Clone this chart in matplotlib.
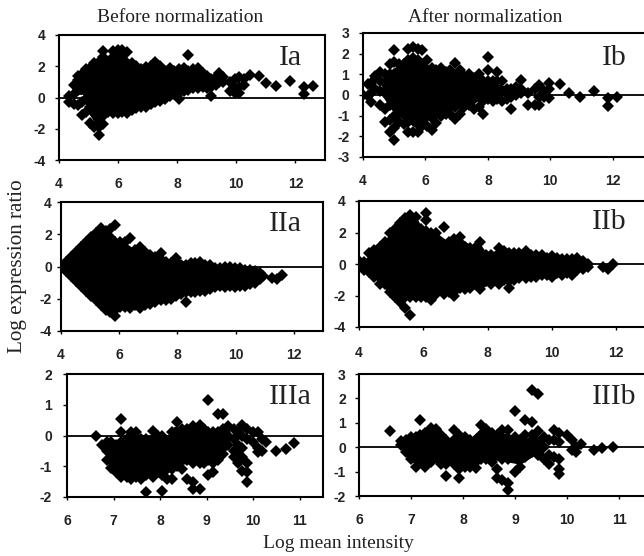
import matplotlib
matplotlib.use('Agg')
import matplotlib.pyplot as plt

# values: one x per column, list of y at that x
ia_x = [4.35, 4.5, 4.65, 4.78, 4.92, 5.06, 5.2, 5.34, 5.5, 5.66, 5.82, 5.98, 6.14, 6.3, 6.46, 6.62, 6.78, 6.94, 7.1, 7.26, 7.42, 7.58, 7.74, 7.9, 8.06, 8.22, 8.38, 8.54, 8.7, 8.86, 9.02, 9.15, 9.3, 9.42, 9.55, 9.8, 9.95, 10.1, 10.25, 10.45, 10.75, 11.0, 11.35, 11.8, 12.3, 12.6]
ia_y = [[-0.3, 0.1], [-0.4, 0.2, 0.8], [-0.5, 0.5, 1.1, 1.4], [-1.15, -0.3, 0.9, 1.5], [-0.9, -0.1, 0.6, 1.2, 1.8], [-1.6, -0.6, 0, 0.6, 1.2, 1.9], [-1.9, -1.0, -0.4, 0.3, 0.9, 1.5, 2.2], [-2.4, -1.9, -1.3, -0.7, 0, 0.6, 1.2, 1.8, 2.3], [-1.7, -1.2, -0.5, 0.3, 0.9, 1.5, 2.1, 3.0, 2.6], [-0.9, -0.2, 0.4, 1.0, 1.6, 2.2], [-1.0, -0.4, 0.2, 0.8, 1.4, 2.0, 2.6, 3.0], [-1.0, -0.4, 0.2, 0.8, 1.4, 2.0, 2.6, 3.05], [-0.9, -0.3, 0.3, 0.9, 1.5, 2.1, 2.7, 3.05], [-1.0, -0.4, 0.2, 0.8, 1.4, 2.0, 2.9], [-0.8, -0.2, 0.4, 1.0, 1.6, 2.2], [-0.7, -0.1, 0.5, 1.1, 1.7, 2.0], [-0.6, 0, 0.6, 1.2, 1.8], [-0.6, -0.1, 0.5, 1.1, 1.7, 1.95], [-0.4, 0.2, 0.8, 1.4, 2.0], [-0.3, 0.3, 0.9, 1.5, 2.3, 1.9], [-0.2, 0.4, 1.0, 1.6, 2.0], [-0.1, 0.5, 1.1, 1.7], [0.1, 0.6, 1.2, 1.9], [0.2, 0.8, 1.4, 1.7], [-0.1, 0.3, 0.9, 1.5, 1.8], [0.4, 1.0, 1.6, 1.9], [0.5, 1.1, 1.7, 2.7], [0.6, 1.2, 1.8], [0.6, 1.0, 1.5, 1.9], [0.7, 1.2, 1.6], [0.6, 1.0, 1.4], [0.1, 0.7, 1.2], [0.8, 1.3], [1.0, 1.6], [1.0, 1.3], [0.4, 1.0], [0.3, 0.6, 1.2], [0.3, 0.7, 1.3], [0.8, 1.2], [1.45], [1.4], [0.9], [0.75], [1.05], [0.25, 0.7], [0.75]]
# solid black part of the cloud: x, lower edge, upper edge
ia_core_x = [4.5, 4.6, 4.8, 5.0, 5.2, 5.4, 5.6, 5.8, 6.0, 6.3, 6.6, 7.0, 7.3, 7.6, 8.0, 8.4, 8.8, 9.2, 9.5]
ia_core_lo = [0.2, 0.2, 0.2, -1.0, -1.6, -1.8, -1.2, -0.9, -1.0, -0.9, -0.7, -0.4, -0.2, 0, 0.3, 0.6, 0.7, 0.8, 1.0]
ia_core_hi = [0.8, 1.2, 1.6, 2.0, 2.3, 2.4, 2.6, 2.7, 3.0, 2.6, 2.0, 1.9, 2.2, 1.9, 1.7, 1.9, 1.7, 1.3, 1.2]

ib_x = [4.0, 4.15, 4.25, 4.4, 4.55, 4.7, 4.85, 5.0, 5.15, 5.3, 5.45, 5.6, 5.75, 5.9, 6.05, 6.2, 6.35, 6.5, 6.65, 6.8, 6.95, 7.1, 7.25, 7.4, 7.55, 7.7, 7.85, 8.0, 8.15, 8.3, 8.45, 8.6, 8.75, 8.9, 9.05, 9.3, 9.5, 9.65, 9.8, 9.95, 10.3, 10.6, 10.95, 11.4, 11.85, 12.15]
ib_y = [[0], [0.55, -0.05], [-0.35, 0.1, 0.6], [0.3, 0.9], [-0.5, 0.2, 0.7, 1.1], [-1.3, -0.7, 0.1, 0.6, 1.0], [-1.8, -1.2, -0.5, 0, 0.5, 1.0, 1.5], [-2.2, -1.6, -1.0, -0.5, 0, 0.5, 1.0, 1.6, 2.2], [-1.3, -0.8, -0.3, 0.2, 0.7, 1.2, 1.5], [-1.4, -0.9, -0.4, 0.1, 0.6, 1.1, 1.5], [-1.8, -1.3, -0.8, -0.3, 0.2, 0.7, 1.2, 1.7, 2.25], [-1.8, -1.2, -0.7, -0.2, 0.3, 0.8, 1.3, 1.8, 2.3], [-1.8, -1.3, -0.8, -0.3, 0.2, 0.7, 1.2, 1.7, 2.25], [-1.5, -1.0, -0.5, 0, 0.5, 1.0, 1.5, 2.2], [-1.5, -0.8, -0.3, 0.2, 0.7, 1.2, 1.7], [-1.7, -1.1, -0.6, -0.1, 0.4, 0.9, 1.3], [-1.35, -0.8, -0.3, 0.2, 0.7, 1.2], [-1.0, -0.5, 0, 0.5, 1.0, 1.3], [-0.9, -0.4, 0.1, 0.6, 1.1], [-0.9, -0.3, 0.2, 0.7, 1.2], [-1.15, -0.6, -0.1, 0.4, 0.9, 1.55], [-0.9, -0.4, 0.1, 0.6, 1.2], [-0.6, -0.1, 0.4, 0.9], [-0.5, 0, 0.5, 1.0], [-0.7, -0.2, 0.3, 0.8], [-0.6, -0.1, 0.4, 1.0], [-0.9, -0.3, 0.2, 0.7], [-0.2, 0.3, 0.7, 1.2, 1.85], [-0.3, 0.2, 0.7], [-0.2, 0.3, 0.7, 1.1], [-0.3, 0.2, 0.7], [-0.2, 0.3], [-0.7, -0.1, 0.3], [0, 0.4], [0.3, 0.75, 0.1], [-0.5, 0.1], [-0.5, 0.3], [-0.5, -0.1, 0.5], [0.2, -0.1], [0.3, -0.15, 0.6], [0.55], [0.1], [-0.1], [0.2], [-0.55, -0.15], [-0.1]]
ib_core_x = [4.6, 4.9, 5.1, 5.4, 5.7, 6.0, 6.3, 6.6, 7.0, 7.4, 7.8, 8.2, 8.6, 9.0]
ib_core_lo = [0, -0.7, -1.0, -1.3, -1.6, -1.3, -1.0, -0.8, -0.7, -0.4, -0.2, -0.1, 0, 0.1]
ib_core_hi = [0.6, 1.2, 1.3, 1.5, 1.9, 1.6, 1.1, 1.1, 1.1, 0.9, 0.7, 0.6, 0.4, 0.2]

iia_x = [4.0, 4.17, 4.34, 4.51, 4.68, 4.85, 5.02, 5.19, 5.36, 5.53, 5.7, 5.87, 6.04, 6.21, 6.38, 6.55, 6.72, 6.89, 7.06, 7.23, 7.45, 7.6, 7.77, 7.94, 8.11, 8.28, 8.45, 8.62, 8.79, 8.96, 9.13, 9.3, 9.47, 9.64, 9.81, 9.98, 10.15, 10.32, 10.49, 10.66, 10.83, 10.95, 11.25, 11.42, 11.6]
iia_y = [[0], [0.3, -0.3], [0.6, 0, -0.6], [0.9, 0.3, -0.3, -0.9], [1.2, 0.6, 0, -0.6, -1.2], [1.5, 0.9, 0.3, -0.3, -0.9, -1.5], [1.8, 1.2, 0.6, 0, -0.6, -1.2, -1.8], [2.1, 1.5, 0.9, 0.3, -0.3, -0.9, -1.5, -2.1], [2.4, 1.8, 1.2, 0.6, 0, -0.6, -1.2, -1.8, -2.4], [2.2, 1.5, 0.9, 0.3, -0.3, -0.9, -1.5, -2.1, -2.7], [2.3, 1.8, 1.2, 0.6, 0, -0.6, -1.2, -1.8, -2.4, -2.8], [2.6, 1.5, 0.9, 0.3, -0.3, -0.9, -1.5, -2.1, -2.7, -3.1], [1.5, 0.9, 0.3, -0.3, -0.9, -1.5, -2.1, -2.5], [1.5, 0.9, 0.3, -0.3, -0.9, -1.5, -2.1, -2.5], [1.75, 0.6, 0, -0.6, -1.2, -1.8, -2.4, -2.6], [1.0, 0.3, -0.3, -0.9, -1.5, -2.1, -2.4], [1.2, 0.6, 0, -0.6, -1.2, -1.8, -2.6], [0.9, 0.3, -0.3, -0.9, -1.5, -2.1, -2.4], [0.7, 0.1, -0.5, -1.1, -1.7, -2.3], [0.6, 0, -0.6, -1.2, -1.8, -2.2], [0.85, 0.3, -0.3, -0.9, -1.5, -2.1], [0.3, -0.3, -0.9, -1.5, -2.1], [0.2, -0.4, -1.0, -1.6, -2.0], [0.5, -0.1, -0.7, -1.3, -1.8], [0.1, -0.5, -1.1, -1.7], [0.1, -0.4, -1.0, -1.6, -2.2], [0.2, -0.4, -1.0, -1.6], [0.2, -0.3, -0.9, -1.6], [0.3, -0.3, -0.9, -1.5], [0.1, -0.5, -1.0, -1.5], [0.1, -0.4, -0.9, -1.4], [-0.1, -0.6, -1.3], [-0.1, -0.6, -1.2], [0, -0.6, -1.3], [0, -0.6, -1.2], [-0.1, -0.7, -1.3], [-0.1, -0.7, -1.2], [-0.2, -0.8, -1.2], [-0.2, -0.7, -1.1], [-0.3, -0.7, -1.0], [-0.4, -0.8], [-0.6], [-0.7], [-0.8], [-0.5]]
iia_core_x = [4.0, 4.3, 4.6, 5.0, 5.3, 5.6, 5.9, 6.2, 6.5, 6.8, 7.1, 7.5, 7.8, 8.0, 8.4, 8.8, 9.2, 9.6, 10.0, 10.4, 10.8, 10.95]
iia_core_lo = [0, -0.6, -1.2, -1.9, -2.4, -2.7, -2.8, -2.5, -2.4, -2.5, -2.3, -2.1, -2.0, -1.8, -1.6, -1.5, -1.4, -1.3, -1.3, -1.2, -0.8, -0.6]
iia_core_hi = [0, 0.5, 1.0, 1.7, 2.3, 2.0, 1.5, 1.5, 1.1, 1.2, 0.7, 0.7, 0.2, 0.5, 0.2, 0.3, 0.1, 0, -0.1, -0.2, -0.4, -0.6]

iib_x = [4.0, 4.16, 4.32, 4.48, 4.64, 4.8, 4.96, 5.12, 5.28, 5.44, 5.6, 5.76, 5.92, 6.08, 6.24, 6.4, 6.65, 6.8, 6.96, 7.15, 7.3, 7.46, 7.62, 7.78, 7.94, 8.1, 8.35, 8.5, 8.66, 8.82, 8.98, 9.2, 9.36, 9.52, 9.68, 9.84, 10.0, 10.16, 10.32, 10.48, 10.64, 10.8, 10.96, 11.12, 11.6, 11.75, 11.9]
iib_y = [[0.2, -0.1], [0.1, -0.4], [0.7, 0.1, -0.5], [0.9, 0.3, -0.3, -0.8], [1.1, 0.6, 0, -0.6, -1.3], [1.4, 0.9, 0.3, -0.3, -0.9, -1.3], [2.0, 1.2, 0.6, 0, -0.6, -1.2, -1.8], [2.2, 1.5, 0.9, 0.3, -0.3, -0.9, -1.5, -2.1], [2.6, 1.8, 1.2, 0.6, 0, -0.6, -1.2, -1.8, -2.4], [2.9, 2.1, 1.5, 0.9, 0.3, -0.3, -0.9, -1.5, -2.1, -2.8], [3.1, 2.4, 1.8, 1.2, 0.6, 0, -0.6, -1.2, -1.8, -2.1, -3.25], [3.0, 2.1, 1.5, 0.9, 0.3, -0.3, -0.9, -1.5, -2.1], [2.2, 1.8, 1.2, 0.6, 0, -0.6, -1.2, -1.8, -2.1], [2.8, 3.25, 2.1, 1.5, 0.9, 0.3, -0.3, -0.9, -1.5, -2.1], [2.0, 1.2, 0.6, 0, -0.6, -1.2, -1.8, -2.3], [2.0, 1.5, 0.9, 0.3, -0.3, -0.9, -1.5, -1.9], [2.35, 1.2, 0.6, 0, -0.6, -1.2, -1.9], [1.4, 0.9, 0.3, -0.3, -0.9, -1.5, -1.8], [1.6, 1.2, 0.6, 0, -0.6, -1.2, -2.0, -1.7], [1.7, 0.9, 0.3, -0.3, -0.9, -1.5], [1.1, 0.6, 0, -0.6, -1.2, -1.6], [1.0, 0.3, -0.3, -0.9, -1.5], [1.0, 0.5, -0.1, -0.7, -1.3], [1.4, 0.3, -0.3, -0.9, -1.6], [0.6, 0.1, -0.5, -1.1], [0.6, 0, -0.6, -1.3], [1.0, 0.3, -0.3, -0.9, -1.3], [0.8, 0.2, -0.4, -1.0], [0.7, 0.1, -0.5, -1.1, -1.55], [0.7, 0.2, -0.4, -1.0], [0.7, 0.1, -0.5, -0.9], [0.8, 0.2, -0.4, -0.9], [0.6, 0.1, -0.5, -0.8], [0.6, 0, -0.5, -0.8], [0.6, 0.1, -0.7], [0.4, -0.2, -0.7], [0.5, 0, -0.8], [0.4, -0.2, -0.6], [0.3, -0.2, -0.7], [0.3, -0.2, -0.6], [0.3, -0.2, -0.7], [0.4, -0.1, -0.4], [0.2, -0.3], [0, -0.2], [-0.2], [-0.3], [0]]
iib_core_x = [4.0, 4.3, 4.6, 5.0, 5.3, 5.6, 5.8, 6.0, 6.4, 6.8, 7.0, 7.2, 7.6, 7.8, 8.0, 8.35, 8.8, 9.2, 9.6, 10.0, 10.4, 10.8, 11.1]
iib_core_lo = [0, -0.4, -1.2, -1.9, -2.3, -2.1, -2.1, -2.1, -1.9, -1.8, -2.0, -1.6, -1.5, -1.6, -1.3, -1.2, -1.1, -0.9, -0.7, -0.8, -0.7, -0.4, -0.2]
iib_core_hi = [0, 0.5, 1.1, 2.0, 2.6, 3.0, 2.9, 2.2, 2.0, 1.4, 1.5, 1.6, 1.0, 1.2, 0.6, 1.0, 0.7, 0.8, 0.6, 0.5, 0.3, 0.4, 0]

iiia_x = [6.63, 6.75, 6.85, 6.95, 7.05, 7.17, 7.28, 7.38, 7.49, 7.6, 7.7, 7.85, 7.95, 8.05, 8.15, 8.25, 8.37, 8.48, 8.58, 8.7, 8.85, 8.95, 9.03, 9.14, 9.25, 9.35, 9.45, 9.58, 9.68, 9.76, 9.86, 10.0, 10.1, 10.18, 10.27, 10.5, 10.7, 10.88]
iiia_y = [[0], [-0.3], [-0.2, -0.5, -0.8], [-0.2, -0.5, -0.8, -1.05], [-0.3, -0.6, -0.9, -1.2], [0.55, 0.1, -0.2, -0.5, -0.8, -1.1, -1.35], [-0.1, -0.4, -0.7, -1.0, -1.35], [0.1, -0.2, -0.5, -0.8, -1.1, -1.4], [0.1, -0.3, -0.6, -0.9, -1.35], [-0.1, -0.4, -0.7, -1.0, -1.4], [-0.1, -0.4, -0.7, -1.0, -1.3, -1.85], [0.15, -0.2, -0.5, -0.8, -1.1, -1.35], [0, -0.3, -0.6, -0.9, -1.2], [0, -0.3, -0.6, -0.9, -1.3, -1.8], [-0.2, -0.5, -0.8, -1.1, -1.4], [-0.2, 0.1, -0.5, -0.8, -1.1, -1.4], [0.45, 0.1, -0.2, -0.5, -0.8, -1.0], [0.2, -0.1, -0.4, -0.7, -1.1], [0.2, -0.2, -0.5, -0.8, -1.4], [0.3, 0, -0.3, -0.6, -0.9, -1.5, -1.75], [0.35, 0, -0.3, -0.6, -0.9, -1.75], [0.2, -0.1, -0.4, -0.7, -0.9], [1.15, 0.1, -0.2, -0.5, -0.8, -1.3], [0.1, -0.2, -0.5, -0.9, -1.2], [0.7, 0.1, -0.2, -0.5, -0.8], [0.7, 0.2, -0.1, -0.4, -0.6], [0.3, 0, -0.3], [0.2, -0.1, -0.5, -0.7], [0.1, -0.3, -0.6, -0.9], [0.35, 0, -0.4, -0.7, -1.15], [0.2, -0.1, -0.9, -1.2, -1.5], [0.1, -0.2], [0.1, -0.4, -0.55], [-0.1, -0.5], [-0.2], [-0.5], [-0.45], [-0.25]]
iiia_core_x = [6.85, 7.1, 7.4, 7.7, 7.85, 8.1, 8.3, 8.6, 8.85, 9.1, 9.4, 9.5]
iiia_core_lo = [-0.7, -1.3, -1.4, -1.3, -1.3, -1.3, -1.0, -0.9, -0.9, -0.9, -0.5, -0.3]
iiia_core_hi = [-0.3, -0.1, 0.05, -0.1, 0.1, -0.1, 0.3, 0.2, 0.3, 0.1, 0.2, 0.2]

iiib_x = [6.6, 6.8, 6.9, 7.0, 7.1, 7.17, 7.27, 7.38, 7.48, 7.58, 7.68, 7.83, 7.93, 8.03, 8.13, 8.25, 8.35, 8.45, 8.55, 8.65, 8.75, 8.87, 9.0, 9.1, 9.2, 9.33, 9.45, 9.55, 9.65, 9.75, 9.85, 10.0, 10.1, 10.17, 10.27, 10.52, 10.68, 10.88]
iiib_y = [[0.65], [0.25, 0.1], [0.3, 0, -0.2], [0.4, 0, -0.3, -0.5], [0.4, 0, -0.4, -0.8], [1.1, 0.5, 0.2, -0.2, -0.6], [0.6, 0.2, -0.2, -0.6, -0.8], [0.8, 0.4, 0, -0.4, -0.6], [0.75, 0.4, 0, -0.4], [0.5, 0.1, -0.3, -0.7], [0.3, -0.1, -0.5, -0.7, -1.2], [0.7, 0.3, -0.1, -0.5, -0.7], [0.5, 0.1, -0.3, -0.7, -0.9, -1.25], [0.4, 0, -0.4, -0.8], [0.3, -0.1, -0.5, -0.8], [0.3, -0.1, -0.4, -0.6, -0.85], [0.9, 0.5, 0.1, -0.3, -0.5], [0.75, 0.3, -0.1, -0.5], [0.6, 0.2, -0.2, -0.6], [0.5, 0.1, -0.3, -0.9, -1.25], [0.7, 0.3, -0.1, -0.5, -1.35], [0.7, 0.3, -0.1, -0.5, -1.45, -1.75], [1.5, 0.4, 0, -0.4, -1.0], [0.3, -0.1, -0.5, -0.8], [1.1, 0.5, 0.1, -0.4], [2.35, 1.05, 0.5, 0.1, -0.2], [2.2, 0.65, 0.2, -0.3], [0.4, 0, -0.5], [0.3, -0.3, -0.7], [0.7, 0.3, -0.4], [0.6, 0.2, -0.5, -0.9, -1.1], [0.5], [0.3, -0.1], [0, -0.2], [0.15], [-0.1], [-0.05], [0]]
iiib_core_x = [6.85, 7.1, 7.4, 7.7, 7.85, 8.1, 8.35, 8.6, 8.85, 9.1, 9.4, 9.55]
iiib_core_lo = [-0.1, -0.8, -0.6, -0.7, -0.7, -0.8, -0.5, -0.5, -0.6, -0.7, -0.3, -0.3]
iiib_core_hi = [0.2, 0.4, 0.7, 0.3, 0.6, 0.3, 0.8, 0.5, 0.6, 0.3, 0.5, 0.3]

panel_labels = ['Ia', 'Ib', 'IIa', 'IIb', 'IIIa', 'IIIb']
y_ticks_top = [-4, -2, 0, 2, 4]
y_ticks_ib = [-3, -2, -1, 0, 1, 2, 3]
y_ticks_iiia = [-2, -1, 0, 1, 2]
y_ticks_iiib = [-2, -1, 0, 1, 2, 3]
x_ticks_top = [4, 6, 8, 10, 12]
x_ticks_bottom = [6, 7, 8, 9, 10, 11]

W, H = 644, 556


def panel(box, xlim, ylim, xticks, yticks, xs, cols, core, label, label_xy, ypad, xpad=9.7, right_spine=True):
    left, top, right, bottom = box
    ax = fig.add_axes([left / W, 1 - bottom / H, (right - left) / W, (bottom - top) / H])
    px = [x for x, ys in zip(xs, cols) for y in ys]
    py = [y for ys in cols for y in ys]
    ax.axhline(0, color='black', lw=1.3, zorder=1)
    ax.fill_between(core[0], core[1], core[2], color='black', lw=0, zorder=2)
    ax.plot(px, py, 'D', ms=5.8, color='black', mew=0, zorder=2)
    ax.set_xlim(xlim)
    ax.set_ylim(ylim)
    ax.set_xticks(xticks)
    ax.set_yticks(yticks)
    ax.tick_params(axis='x', length=2.5, width=1.0, pad=xpad, labelsize=10)
    ax.tick_params(axis='y', length=2.9, width=1.0, pad=ypad, labelsize=10)
    for lab in ax.get_xticklabels() + ax.get_yticklabels():
        lab.set_fontweight('bold')
        lab.set_color('#222222')
    for s in ax.spines.values():
        s.set_linewidth(1.5)
    ax.spines['right'].set_visible(right_spine)
    fig.text(label_xy[0] / W, 1 - label_xy[1] / H, label, family='Liberation Serif',
             fontsize=21.5, color='#222222', ha='center', va='center')
    return ax


plt.rcParams['font.family'] = ['Liberation Sans', 'DejaVu Sans']
plt.rcParams['axes.unicode_minus'] = False
fig = plt.figure(figsize=(W / 100, H / 100), dpi=100)

panel((59, 35, 325, 160), (4, 13), (-4, 4), x_ticks_top, y_ticks_top, ia_x, ia_y,
      (ia_core_x, ia_core_lo, ia_core_hi), panel_labels[0], (290, 58), 7)
panel((363, 33, 644, 157), (4, 13), (-3, 3), x_ticks_top, y_ticks_ib, ib_x, ib_y,
      (ib_core_x, ib_core_lo, ib_core_hi), panel_labels[1], (614, 58), 7, right_spine=False)
panel((61, 202, 323, 331), (4, 13), (-4, 4), x_ticks_top, y_ticks_top, iia_x, iia_y,
      (iia_core_x, iia_core_lo, iia_core_hi), panel_labels[2], (285, 224), 3.6)
panel((359, 201, 644, 327), (4, 12.87), (-4, 4), x_ticks_top, y_ticks_top, iib_x, iib_y,
      (iib_core_x, iib_core_lo, iib_core_hi), panel_labels[3], (609, 222), 6.5, xpad=11.5, right_spine=False)
panel((67, 374, 323, 497), (6, 11.5), (-2, 2), x_ticks_bottom, y_ticks_iiia, iiia_x, iiia_y,
      (iiia_core_x, iiia_core_lo, iiia_core_hi), panel_labels[4], (290, 397), 8)
panel((359, 374, 644, 496), (6, 11.48), (-2, 3), x_ticks_bottom, y_ticks_iiib, iiib_x, iiib_y,
      (iiib_core_x, iiib_core_lo, iiib_core_hi), panel_labels[5], (614, 397), 6.5, right_spine=False)

serif = dict(family='Liberation Serif', color='#222222', ha='center', va='center')
fig.text(180 / W, 1 - 18 / H, 'Before normalization', fontsize=14, **serif)
fig.text(485 / W, 1 - 18 / H, 'After normalization', fontsize=14, **serif)
fig.text(18 / W, 1 - 266 / H, 'Log expression ratio', fontsize=15.2, rotation=90, **serif)
fig.text(338 / W, 1 - 543 / H, 'Log mean intensity', fontsize=14, **serif)

fig.savefig('out.png', dpi=100)
